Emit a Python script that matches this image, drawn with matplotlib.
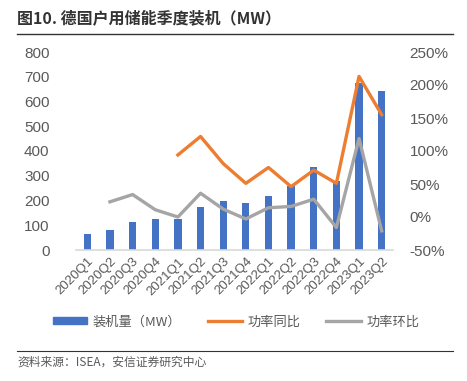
import matplotlib
matplotlib.use("Agg")
import matplotlib.pyplot as plt
from matplotlib.lines import Line2D
from matplotlib.patches import Patch
import numpy as np

plt.rcParams['font.family'] = ['Noto Sans CJK SC', 'DejaVu Sans']

quarters = ["2020Q1", "2020Q2", "2020Q3", "2020Q4", "2021Q1", "2021Q2", "2021Q3",
            "2021Q4", "2022Q1", "2022Q2", "2022Q3", "2022Q4", "2023Q1", "2023Q2"]
installed_mw = [65, 80, 112, 127, 127, 175, 198, 191, 218, 260, 335, 280, 675, 643]
yoy_pct = [np.nan, np.nan, np.nan, np.nan, 94, 122, 81, 51, 75, 46, 71, 51, 213, 155]
qoq_pct = [np.nan, 23, 34, 11, 0, 36, 12, -3, 14, 16, 27, -16, 119, -21]

BLUE = "#4472C4"
ORANGE = "#ED7D31"
GRAY = "#A5A5A5"
TXT = "#595959"
NUMFONT = "Liberation Sans"

fig = plt.figure(figsize=(4.67, 3.81), dpi=100)
ax = fig.add_axes([76 / 467, 1 - 250 / 381, 317 / 467, 198 / 381])
x = np.arange(len(quarters))
ax.bar(x, installed_mw, width=0.32, color=BLUE, zorder=2)
ax.set_ylim(0, 800)
ax.set_yticks(np.arange(0, 801, 100))
ax.set_yticklabels([str(v) for v in range(0, 801, 100)], family=NUMFONT)
ax.set_xlim(-0.5, len(quarters) - 0.5)
ax.set_xticks(x)
ax.set_xticklabels(quarters, rotation=45, ha="right", rotation_mode="anchor",
                   fontsize=9.5, color=TXT, family=NUMFONT)
ax.tick_params(axis="y", length=0, labelsize=11, labelcolor=TXT, pad=19)
ax.tick_params(axis="x", length=0, pad=4)
for s in ["top", "right", "left"]:
    ax.spines[s].set_visible(False)
ax.spines["bottom"].set_color("#D9D9D9")
ax.spines["bottom"].set_linewidth(1.2)

ax2 = ax.twinx()
ax2.plot(x, yoy_pct, color=ORANGE, lw=2.4, zorder=3)
ax2.plot(x, qoq_pct, color=GRAY, lw=2.4, zorder=3)
ax2.set_ylim(-50, 250)
ax2.set_yticks(np.arange(-50, 251, 50))
ax2.set_yticklabels([f"{v}%" for v in range(-50, 251, 50)], family=NUMFONT)
ax2.tick_params(axis="y", length=0, labelsize=11, labelcolor=TXT, pad=12)
for s in ["top", "right", "left", "bottom"]:
    ax2.spines[s].set_visible(False)

# title and rules
fig.text(17 / 467, 1 - 18 / 381, "图10. 德国户用储能季度装机（MW）", fontsize=11.5,
         fontweight="bold", color="#333333", va="center", ha="left")
fig.add_artist(Line2D([17 / 467, 453 / 467], [1 - 34 / 381] * 2, color="#333333", lw=1))
fig.add_artist(Line2D([17 / 467, 453 / 467], [1 - 351 / 381] * 2, color="#333333", lw=0.8))
fig.text(17 / 467, 1 - 362 / 381, "资料来源：ISEA，安信证券研究中心", fontsize=8.5,
         style="italic", color="#595959", va="center", ha="left")

handles = [Patch(color=BLUE), Line2D([], [], color=ORANGE, lw=2.4),
           Line2D([], [], color=GRAY, lw=2.4)]
labels = ["装机量（MW）", "功率同比", "功率环比"]
fig.legend(handles, labels, loc="center", bbox_to_anchor=(236 / 467, 1 - 322 / 381), ncol=3,
           frameon=False, fontsize=9.5, handlelength=2.6, handleheight=0.45,
           columnspacing=2.0, handletextpad=0.4, labelcolor=TXT)

fig.savefig("out.png", dpi=100)
